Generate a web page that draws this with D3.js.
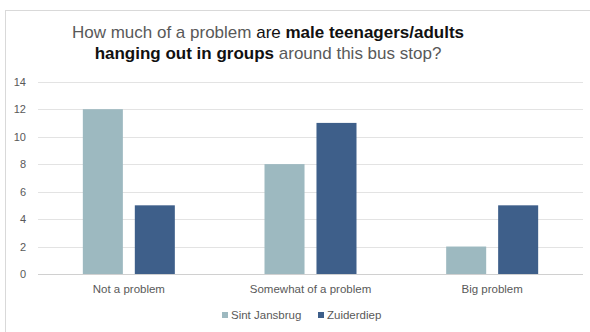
<!DOCTYPE html>
<html>
<head>
<meta charset="utf-8">
<script src="https://cdn.jsdelivr.net/npm/d3@7"></script>
<style>
  body{margin:0;background:#fff;}
  svg{display:block;font-family:"Liberation Sans",Arial,sans-serif;}
</style>
</head>
<body>
<svg id="chart" width="590" height="332"></svg>
<script>
// data
const categories=['Not a problem','Somewhat of a problem','Big problem']
const seriesNames=['Sint Jansbrug','Zuiderdiep']
const sintJansbrug=[12,8,2]
const zuiderdiep=[5,11,5]
const yTicks=[0,2,4,6,8,10,12,14]

const colors=['#9db9c0','#3e5f8a']
const svg=d3.select('#chart')

// chart frame
svg.append('rect')
  .attr('x',5.5).attr('y',10.5)
  .attr('width',600).attr('height',340)
  .attr('fill','#fff').attr('stroke','#d9d9d9')

// title, mixed weight
const title=svg.append('text')
  .attr('text-anchor','middle')
  .attr('font-size',17)
  .attr('fill','#595959')
const line1=title.append('tspan').attr('x',268).attr('y',38)
line1.append('tspan').text('How much of a problem ')
line1.append('tspan').attr('fill','#111').text('are ')
line1.append('tspan').attr('fill','#111').attr('font-weight','bold').text('male teenagers/adults')
const line2=title.append('tspan').attr('x',268).attr('y',59)
line2.append('tspan').attr('fill','#111').attr('font-weight','bold').text('hanging out in groups')
line2.append('tspan').text(' around this bus stop?')

const m={left:38,right:583,top:81.7,bottom:274}
const x=d3.scaleBand().domain(categories).range([m.left,m.right]).paddingInner(0).paddingOuter(0)
const x1=d3.scaleBand().domain(seriesNames).range([0,92]).paddingInner(0.23)
const y=d3.scaleLinear().domain([0,14]).range([m.bottom,m.top])

// gridlines
svg.append('g')
  .selectAll('line')
  .data(yTicks)
  .enter()
  .append('line')
  .attr('x1',m.left).attr('x2',m.right)
  .attr('y1',d=>Math.round(y(d))+0.5).attr('y2',d=>Math.round(y(d))+0.5)
  .attr('stroke',d=>d===0?'#d0d0d0':'#e3e3e3')

// y axis labels
const yAxis=svg.append('g')
  .attr('transform',`translate(${m.left-12},0)`)
  .call(d3.axisLeft(y).tickValues(yTicks).tickSize(0).tickPadding(0))
yAxis.select('.domain').remove()
yAxis.selectAll('text').attr('font-size',11).attr('fill','#595959').attr('font-family','"Liberation Sans",Arial,sans-serif')

// bars
const series=[sintJansbrug,zuiderdiep]
const groups=svg.append('g')
  .selectAll('g')
  .data(categories)
  .enter()
  .append('g')
  .attr('transform',d=>`translate(${x(d)+x.bandwidth()/2-46},0)`)
groups.selectAll('rect')
  .data((d,i)=>seriesNames.map((s,j)=>({s,v:series[j][i]})))
  .enter()
  .append('rect')
  .attr('x',d=>x1(d.s))
  .attr('width',x1.bandwidth())
  .attr('y',d=>y(d.v))
  .attr('height',d=>y(0)-y(d.v))
  .attr('fill',(d,i)=>colors[i])

// x axis labels
const xAxis=svg.append('g')
  .attr('transform',`translate(0,${m.bottom+11})`)
  .call(d3.axisBottom(x).tickSize(0).tickPadding(0))
xAxis.select('.domain').remove()
xAxis.selectAll('text').attr('font-size',11.5).attr('fill','#595959').attr('font-family','"Liberation Sans",Arial,sans-serif')

// legend
const legendX=[222,318]
const legend=svg.append('g')
  .selectAll('g')
  .data(seriesNames)
  .enter()
  .append('g')
  .attr('transform',(d,i)=>`translate(${legendX[i]},316)`)
legend.append('rect')
  .attr('x',0).attr('y',-4).attr('width',6).attr('height',6)
  .attr('fill',(d,i)=>colors[i])
legend.append('text')
  .attr('x',9).attr('y',0)
  .attr('dominant-baseline','middle')
  .attr('font-size',11.5).attr('fill','#595959')
  .text(d=>d)
</script>
</body>
</html>
